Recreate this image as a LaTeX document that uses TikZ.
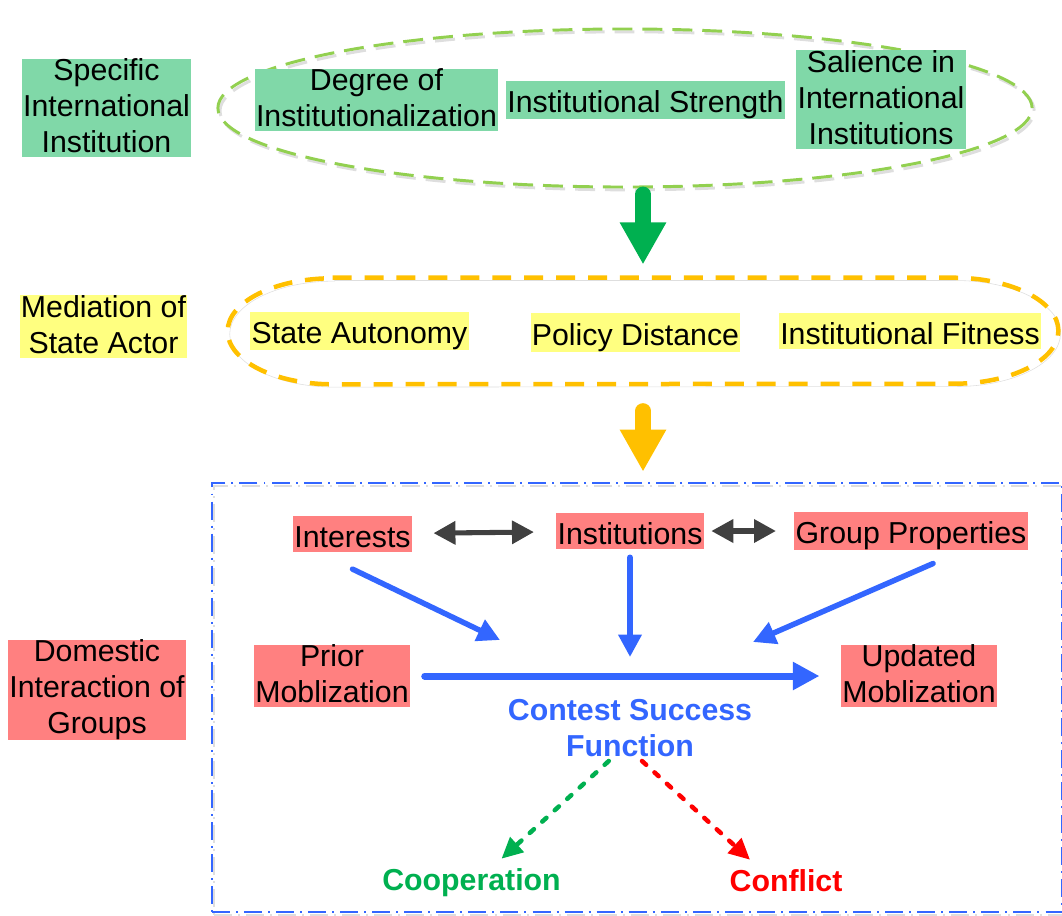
\documentclass[tikz,border=0pt]{standalone}
\usepackage{fontspec}
\setmainfont{Liberation Sans}
\usetikzlibrary{arrows.meta,shapes.geometric}
\definecolor{boxgreen}{RGB}{128,216,168}
\definecolor{boxyellow}{RGB}{255,255,128}
\definecolor{boxred}{RGB}{255,128,128}
\definecolor{lgreen}{RGB}{146,208,80}
\definecolor{dgreen}{RGB}{0,176,80}
\definecolor{orng}{RGB}{255,192,0}
\definecolor{blu}{RGB}{51,102,255}
\definecolor{dgray}{RGB}{64,64,64}
\definecolor{shd}{RGB}{222,222,222}
\newcommand{\dgfont}{\fontsize{21.55}{25.6}\selectfont}
\begin{document}
\begin{tikzpicture}[x=0.025cm,y=-0.025cm,
txt/.style={align=center,inner xsep=1pt,inner ysep=0pt,font=\dgfont,execute at begin node={\rule{0pt}{22.6pt}},execute at end node={\rule[-3pt]{0pt}{3pt}}},
gbox/.style={txt,fill=boxgreen},
ybox/.style={txt,fill=boxyellow},
rbox/.style={txt,fill=boxred},
btxt/.style={txt,font=\dgfont\bfseries},
shadowed/.style={preaction={draw=shd,transform canvas={xshift=1.5pt,yshift=-2pt}}},
fat/.style={line width=10.7pt,line cap=round,-{Triangle[width=31pt,length=30pt]}},
flow/.style={blu,line width=3.9pt,line cap=round,-{Triangle[width=16pt,length=16pt]}},
link/.style={dgray,line width=3.6pt,{Triangle[width=16pt,length=15.6pt]}-{Triangle[width=16pt,length=15.6pt]}},
outcome/.style={line width=3.2pt,line cap=round,dash pattern=on 4pt off 8pt,-{Triangle[width=14pt,length=15pt]}}]
\useasboundingbox (0,0) rectangle (1062,915);

\node[ellipse,draw=lgreen,line width=2.1pt,dash pattern=on 14.2pt off 7.1pt,minimum width=20.35cm,minimum height=3.95cm,shadowed] (instEll) at (625,108) {};
\node[gbox] (spec) at (106.5,108) {Specific\\International\\Institution};
\node[gbox] (degree) at (376.5,100) {Degree of\\Institutionalization};
\node[gbox] (strength) at (645.5,100) {Institutional Strength};
\node[gbox] (salience) at (881,99.5) {Salience in\\International\\Institutions};

\node[minimum width=20.75cm,minimum height=2.65cm] (medFrame) at (643,331) {};
\draw[orng,line width=3.2pt,dash pattern=on 13.5pt off 9.2pt,shadowed] ([xshift=2.625cm]medFrame.north west) -- ([xshift=-2.625cm]medFrame.north east) arc[start angle=90,end angle=-90,x radius=2.625cm,y radius=1.325cm] -- ([xshift=2.625cm]medFrame.south west) arc[start angle=270,end angle=90,x radius=2.625cm,y radius=1.325cm] -- cycle;
\node[ybox] (mediation) at (103.5,326.5) {Mediation of\\State Actor};
\node[ybox] (autonomy) at (359.5,331) {State Autonomy};
\node[ybox] (policy) at (635.5,332.5) {Policy Distance};
\node[ybox] (fitness) at (910,330.5) {Institutional Fitness};

\node[draw=blu,line width=1.8pt,dash pattern=on 12.8pt off 4.3pt on 1.4pt off 4.3pt,minimum width=21.25cm,minimum height=10.725cm,shadowed] (domFrame) at (637,697.5) {};
\node[rbox] (domestic) at (97,690) {Domestic\\Interaction of\\Groups};
\node[rbox] (interests) at (352.5,534) {Interests};
\node[rbox] (institutions) at (630,531) {Institutions};
\node[rbox] (groupProp) at (911,531) {Group Properties};
\node[rbox] (prior) at (332,676) {Prior\\Moblization};
\node[rbox] (updated) at (919,676) {Updated\\Moblization};
\node[btxt,blu] (csf) at (630,730) {Contest Success\\Function};
\node[btxt,dgreen] (coop) at (471.5,878) {Cooperation};
\node[btxt,red] (confl) at (786,878) {Conflict};

\coordinate (inL) at (500,640);
\coordinate (inM) at (630,657);
\coordinate (inR) at (753,642);

\draw[fat,dgreen,shorten <=0.14cm,shorten >=0.33cm] (instEll.south -| medFrame.north) -- (medFrame.north);
\draw[fat,orng,shorten <=0.66cm,shorten >=0.25cm] (medFrame.south) -- (medFrame.south |- domFrame.north);
\draw[link,shorten <=0.53cm,shorten >=0.55cm] (interests) -- (institutions);
\draw[link,shorten <=0.18cm,shorten >=0.45cm] (institutions) -- (groupProp);
\draw[flow] ([yshift=-0.42cm]interests.south) -- (inL);
\draw[flow,shorten <=0.2cm] (institutions.south) -- (inM);
\draw[flow] ([xshift=0.55cm,yshift=-0.33cm]groupProp.south) -- (inR);
\draw[blu,line width=5pt,line cap=round,-{Triangle[width=19pt,length=19pt]},shorten <=0.36cm,shorten >=0.53cm] (prior) -- (updated);
\draw[outcome,dgreen] ([xshift=-0.53cm]csf.south) -- ([xshift=0.75cm]coop.north);
\draw[outcome,red] ([xshift=0.3cm]csf.south) -- ([xshift=-0.9cm]confl.north);
\end{tikzpicture}
\end{document}
